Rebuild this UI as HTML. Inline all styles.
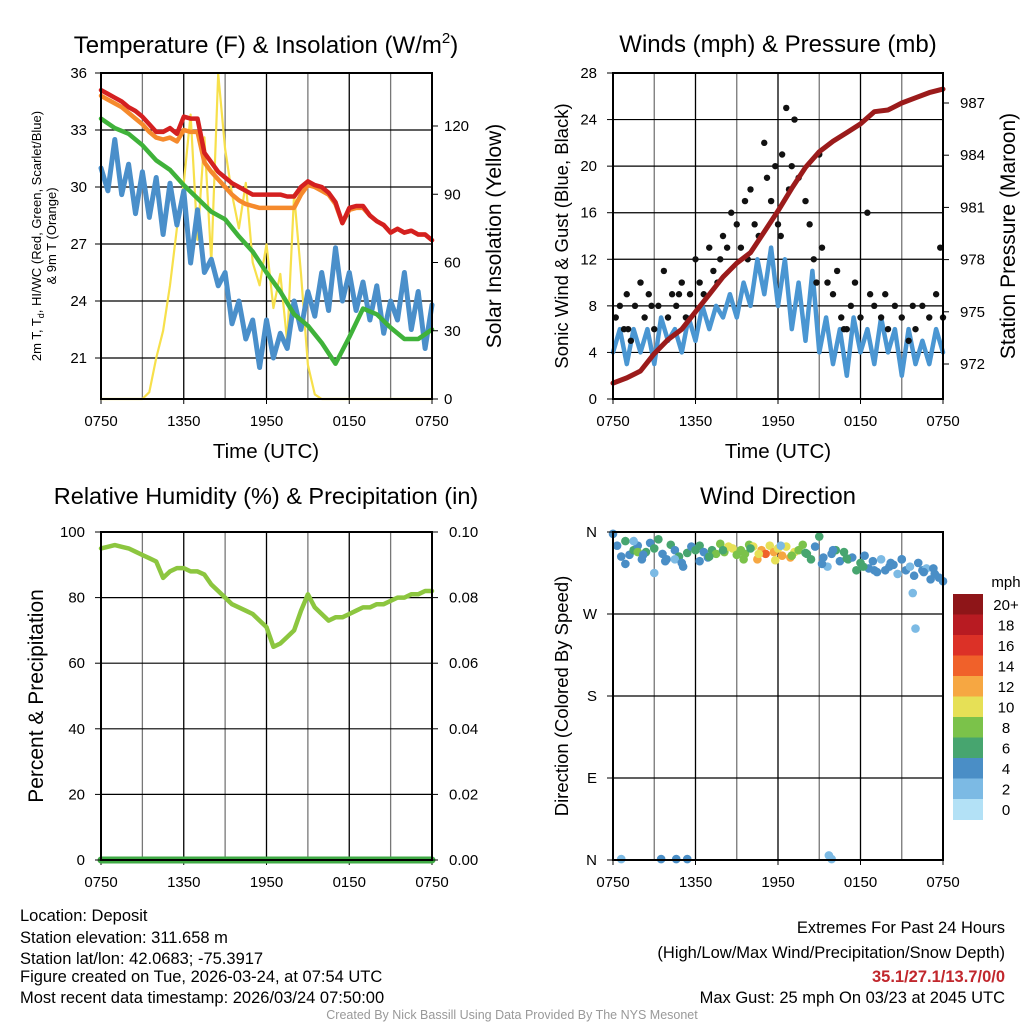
<!DOCTYPE html>
<html><head><meta charset="utf-8">
<style>
html,body{margin:0;padding:0;background:#fff;}
svg{display:block;font-family:"Liberation Sans",Arial,sans-serif;}
</style></head>
<body>
<svg id="fig" width="1024" height="1024" viewBox="0 0 1024 1024">
<g id="p1"></g>
<g id="p2"></g>
<g id="p3"></g>
<g id="p4"></g>
<g font-size="16.5" fill="#000">
<text x="20" y="921">Location: Deposit</text>
<text x="20" y="943">Station elevation: 311.658 m</text>
<text x="20" y="964">Station lat/lon: 42.0683; -75.3917</text>
<text x="20" y="982">Figure created on Tue, 2026-03-24, at 07:54 UTC</text>
<text x="20" y="1003">Most recent data timestamp: 2026/03/24 07:50:00</text>
<text x="1005" y="933" text-anchor="end">Extremes For Past 24 Hours</text>
<text x="1005" y="958" text-anchor="end">(High/Low/Max Wind/Precipitation/Snow Depth)</text>
<text x="1005" y="982" text-anchor="end" fill="#c1272d" font-weight="bold">35.1/27.1/13.7/0/0</text>
<text x="1005" y="1003" text-anchor="end">Max Gust: 25 mph On 03/23 at 2045 UTC</text>
<text x="512" y="1019" text-anchor="middle" font-size="12.5" fill="#999">Created By Nick Bassill Using Data Provided By The NYS Mesonet</text>
</g>
</svg>
<script>
// ---------- data ----------
const t49 = Array.from({length:49},(_, i)=>i*0.5);
const t25 = Array.from({length:25},(_, i)=>i);
const xTickLabels = ["0750","1350","1950","0150","0750"];
const tempTicks = [21,24,27,30,33,36];
const solarTicks = [0,30,60,90,120];
const tempRed = [35.1,34.9,34.7,34.5,34.2,34.0,33.7,33.3,32.9,32.9,33.1,32.8,33.7,33.6,33.6,31.8,31.3,30.8,30.5,30.2,30.0,29.8,29.6,29.6,29.6,29.6,29.6,29.5,29.5,30.0,30.3,30.1,30.0,29.7,29.2,28.1,28.9,29.0,29.0,28.5,28.2,28.0,27.6,27.8,27.6,27.7,27.5,27.5,27.2];
const tempOrange = [34.8,34.6,34.4,34.2,33.9,33.6,33.3,32.9,32.6,32.5,32.6,32.4,33.0,32.9,32.9,31.3,30.8,30.4,30.0,29.6,29.3,29.1,29.0,28.9,28.9,28.9,28.9,28.9,28.9,29.6,30.1,30.0,29.8,29.6,29.1,28.1,28.8,28.9,28.9,28.5,28.2,28.0,27.6,27.8,27.6,27.7,27.5,27.5,27.2];
const dewGreen = [33.6,33.1,32.8,32.2,31.4,30.9,30.1,29.4,28.7,28.3,27.4,26.6,25.5,24.5,23.3,22.7,21.8,20.7,22.1,23.6,23.3,22.6,22.0,22.0,22.5];
const chillBlue = [31.0,29.8,32.5,29.6,31.2,28.6,30.8,28.4,30.5,27.5,30.2,28.0,29.8,26.0,28.8,25.5,26.2,24.8,25.5,22.8,24.0,22.0,23.0,20.5,23.0,21.0,22.3,21.5,24.0,22.5,24.5,23.2,25.5,23.5,26.8,24.0,25.5,23.5,25.0,23.0,24.8,22.3,24.0,23.0,25.5,22.5,24.5,21.5,23.8];
const solar = [0,0,0,0,0,0,0,3,18,30,50,75,95,125,70,115,60,143,110,90,75,95,60,50,68,40,55,25,90,55,15,2,0,0,0,0,0,0,0,0,0,0,0,0,0,0,0,0,0];
const windTicks = [0,4,8,12,16,20,24,28];
const presTicks = [972,975,978,981,984,987];
const pressure = [970.9,971.2,971.6,972.6,973.4,974.0,975.0,976.0,977.0,977.8,978.4,979.6,980.8,982.1,983.3,984.2,984.8,985.3,985.8,986.5,986.6,987.0,987.3,987.6,987.8];
const sonicWind = [4,6,3,6,4,6,3,7,5,6,4,7,5,8,6,8,7,9,7,10,8,12,9,13,8,12,6,10,5,11,4,7,3,6,2,7,4,6,3,7,4,6,2,6,3,5,3,6,4];
const gustT = [0.2,0.5,0.8,1,1.3,1.6,2,2.3,2.6,3,3.3,3.7,4,4.3,4.6,5,5.3,5.6,6,6.3,6.6,7,7.3,7.6,8,8.3,8.6,9,9.3,9.6,10,10.3,10.6,11,11.2,11.5,11.8,12,12.3,12.6,12.8,13,13.2,13.5,14,14.3,14.6,15,15.2,15.6,16,16.3,16.6,17,17.3,17.6,18,18.5,18.7,19,19.5,20,20.5,21,21.5,22,22.5,23,23.5,23.8,24,1.1,2.8,4.8,7.8,9.8,12.2,14.8,16.8,19.8,21.8];
const gustV = [7,8,6,9,5,8,10,7,9,6,8,11,7,9,8,10,7,9,12,10,9,13,11,10,14,13,16,15,13,17,18,15,14,22,19,17,20,15,21,25,18,20,24,19,17,15,12,21,13,10,9,11,7,6,8,10,7,16,9,8,7,6,8,7,5,6,8,7,9,13,7,6,8,9,12,12,14,10,6,9,8];
const rhTicks = [0,20,40,60,80,100];
const precipTicks = ["0.00","0.02","0.04","0.06","0.08","0.10"];
const rh = [95,95.5,96,95.5,95,94,93,92,91,86,88,89,89,88,88,87,84,82,80,78,77,76,75,73,71,65,66,68,70,76,81,77,75,73,74,74,75,76,77,77,78,78,79,80,80,81,81,82,82];
const precip = [0,0,0,0,0,0,0,0,0,0,0,0,0,0,0,0,0,0,0,0,0,0,0,0,0];
const dirLabels = ["N","E","S","W","N"];
const spdLevels = ["0","2","4","6","8","10","12","14","16","18","20+"];
const spdColors = ["#b3e1f6","#7cbae4","#4a8ec6","#47a56f","#7bc24a","#e6e056","#f6a742","#f0612a","#dc3127","#b81b22","#8e1518"];
const dirT = [0,0.3,0.6,0.9,1.2,1.5,1.8,2.1,2.4,2.7,3.0,3.3,3.6,3.9,4.2,4.5,4.8,5.1,5.4,5.7,6.0,6.3,6.6,6.9,7.2,7.5,7.8,8.1,8.4,8.7,9.0,9.3,9.6,9.9,10.2,10.5,10.8,11.1,11.4,11.7,12.0,12.3,12.6,12.9,13.2,13.5,13.8,14.1,14.4,14.7,15.0,15.3,15.6,15.9,16.2,16.5,16.8,17.1,17.4,17.7,18.0,18.3,18.6,18.9,19.2,19.5,19.8,20.1,20.4,20.7,21.0,21.3,21.6,21.9,22.2,22.5,22.8,23.1,23.4,23.7,24.0,1.5,3.0,6.3,10.0,1.8,4.5,12.2,16.0,21.8,22.0,0.6,3.5,4.6,5.4,15.7,15.9,0.9,2.2,3.8,5.0,7.0,8.0,9.5,10.6,11.8,13.0,14.0,15.2,17.0,18.2,19.0,20.2,21.0,22.6,23.3];
const dirD = [358,345,333,350,335,340,345,330,338,348,342,352,336,330,346,340,333,322,337,344,340,345,338,332,340,336,347,338,344,342,335,340,336,346,344,330,340,336,345,338,342,334,344,332,338,340,346,336,330,344,355,332,322,336,340,328,338,330,332,318,326,334,320,328,316,330,318,322,324,314,330,318,322,312,326,318,320,308,314,310,306,350,315,328,342,338,330,345,340,293,254,1,1,1,1,5,1,325,335,328,326,333,340,330,336,329,334,337,325,331,322,318,326,330,316,320];
const dirS = [4,3,4,5,4,6,4,3,5,4,5,6,4,3,5,4,5,4,6,4,6,5,4,3,6,7,8,7,9,10,8,7,8,7,9,11,12,13,10,11,10,12,9,11,10,8,7,6,5,4,6,3,2,4,5,4,6,5,4,6,5,4,4,3,4,2,4,3,4,2,4,3,2,4,3,4,2,4,3,4,3,2,2,4,5,7,2,2,3,2,1,2,4,4,4,2,2,4,4,4,4,6,6,8,9,10,7,6,4,5,6,4,4,4,3,4];

// ---------- helpers ----------
const NS="http://www.w3.org/2000/svg";
function mk(parent,tag,attrs){const e=document.createElementNS(NS,tag);for(const k in attrs)e.setAttribute(k,attrs[k]);parent.appendChild(e);return e;}
function txt(parent,x,y,s,attrs){const e=mk(parent,'text',Object.assign({x:x,y:y},attrs||{}));e.textContent=s;return e;}
function lin(d0,d1,r0,r1){return v=>r0+(v-d0)/(d1-d0)*(r1-r0);}
function frame(g,x0,x1,y0,y1,yGrid){
  const xs=lin(0,24,x0,x1);
  for(let h=3;h<24;h+=3){
    const l=mk(g,'line',{x1:xs(h),x2:xs(h),y1:y0,y2:y1,stroke:h%6===0?'#000':'#777','stroke-width':1.3});
    
    
  }
  yGrid.forEach(y=>{
    const l=mk(g,'line',{x1:x0,x2:x1,y1:y,y2:y,stroke:'#000','stroke-width':1.2});
    
    
  });
  xTickLabels.forEach((s,i)=>{
    const t=txt(g,xs(i*6),y1+27,s,{'text-anchor':'middle','font-size':15});
    
    
    mk(g,'line',{x1:xs(i*6),x2:xs(i*6),y1:y1,y2:y1+5,stroke:'#000'});
  });
  return xs;
}
function border(g,x0,x1,y0,y1){
  const r=mk(g,'rect',{x:x0,y:y0,width:x1-x0,height:y1-y0,fill:'none',stroke:'#000','stroke-width':2});
  
  
}
function path(g,xsArr,ysArr,xs,ys,color,w,name){
  let d='';xsArr.forEach((t,i)=>{d+=(i?'L':'M')+xs(t).toFixed(1)+','+ys(ysArr[i]).toFixed(1);});
  const p=mk(g,'path',{d:d,fill:'none',stroke:color,'stroke-width':w,'stroke-linejoin':'round','stroke-linecap':'round'});
  
  
  return p;
}

// ---------- panel 1: temperature ----------
(function(){
  const g=document.getElementById('p1');
  const x0=101,x1=432,y0=73,y1=399;
  const yT=lin(21,36,358,73), yS=lin(0,120,399,126);
  const xs=frame(g,x0,x1,y0,y1,tempTicks.map(yT));
  path(g,t49,solar,xs,yS,'#f7e04b',2.2,'solar-insolation-line');
  path(g,t49,chillBlue,xs,yT,'#4a8fca',5,'wind-chill-line');
  path(g,t25,dewGreen,xs,yT,'#3fb23a',4.5,'dewpoint-line');
  path(g,t49,tempOrange,xs,yT,'#f58a2c',4.5,'temp-9m-line');
  path(g,t49,tempRed,xs,yT,'#d42020',4.5,'temp-2m-line');
  border(g,x0,x1,y0,y1);
  tempTicks.forEach(v=>{const t=txt(g,x0-14,yT(v)+5,String(v),{'text-anchor':'end','font-size':15});mk(g,'line',{x1:x0-6,x2:x0,y1:yT(v),y2:yT(v),stroke:'#000'});});
  solarTicks.forEach(v=>{const t=txt(g,x1+12,yS(v)+5,String(v),{'font-size':15});mk(g,'line',{x1:x1,x2:x1+6,y1:yS(v),y2:yS(v),stroke:'#000'});});
  const ti=mk(g,'text',{x:266,y:53,'text-anchor':'middle','font-size':24});
  ti.innerHTML='Temperature (F) &amp; Insolation (W/m<tspan dy="-10" font-size="15">2</tspan><tspan dy="10">)</tspan>';
  
  const xl=txt(g,266,458,'Time (UTC)',{'text-anchor':'middle','font-size':20.5});
  const yl=mk(g,'text',{transform:'translate(41,236) rotate(-90)','text-anchor':'middle','font-size':13});
  yl.innerHTML='2m T, T<tspan dy="3" font-size="9">d</tspan><tspan dy="-3">, HI/WC (Red, Green, Scarlet/Blue)</tspan>';
  
  const yl2=txt(g,0,0,'& 9m T (Orange)',{transform:'translate(56,236) rotate(-90)','text-anchor':'middle','font-size':13});
  
  const yr=txt(g,0,0,'Solar Insolation (Yellow)',{transform:'translate(501,236) rotate(-90)','text-anchor':'middle','font-size':21});
  
})();

// ---------- panel 2: winds ----------
(function(){
  const g=document.getElementById('p2');
  const x0=613,x1=943,y0=73,y1=399;
  const yW=lin(0,28,399,73), yP=lin(972,987,364,103);
  const xs=frame(g,x0,x1,y0,y1,windTicks.map(yW));
  path(g,t49,sonicWind,xs,yW,'#4a96d2',4.5,'sonic-wind-line');
  gustT.forEach((t,i)=>{const c=mk(g,'circle',{cx:xs(t),cy:yW(gustV[i]),r:3.2,fill:'#111'});});
  path(g,t25,pressure,xs,yP,'#9b1b1b',5,'pressure-line');
  border(g,x0,x1,y0,y1);
  windTicks.forEach(v=>{const t=txt(g,x0-16,yW(v)+5,String(v),{'text-anchor':'end','font-size':15});mk(g,'line',{x1:x0-6,x2:x0,y1:yW(v),y2:yW(v),stroke:'#000'});});
  presTicks.forEach(v=>{const t=txt(g,x1+17,yP(v)+5,String(v),{'font-size':15});mk(g,'line',{x1:x1,x2:x1+6,y1:yP(v),y2:yP(v),stroke:'#000'});});
  const ti=txt(g,778,52,'Winds (mph) & Pressure (mb)',{'text-anchor':'middle','font-size':24});
  const xl=txt(g,778,458,'Time (UTC)',{'text-anchor':'middle','font-size':20.5});
  const yl=txt(g,0,0,'Sonic Wind & Gust (Blue, Black)',{transform:'translate(568,236) rotate(-90)','text-anchor':'middle','font-size':18.5});
  const yr=txt(g,0,0,'Station Pressure (Maroon)',{transform:'translate(1015,236) rotate(-90)','text-anchor':'middle','font-size':21});
})();

// ---------- panel 3: humidity ----------
(function(){
  const g=document.getElementById('p3');
  const x0=101,x1=432,y0=532,y1=860;
  const yR=lin(0,100,860,532), yPr=lin(0,0.1,860,532);
  const xs=frame(g,x0,x1,y0,y1,rhTicks.map(yR));
  path(g,t49,rh,xs,yR,'#8cc63f',4.5,'relative-humidity-line');
  path(g,t25,precip,xs,yPr,'#3faa45',7,'precipitation-line');
  border(g,x0,x1,y0,y1);
  rhTicks.forEach(v=>{const t=txt(g,x0-16,yR(v)+5,String(v),{'text-anchor':'end','font-size':15});mk(g,'line',{x1:x0-6,x2:x0,y1:yR(v),y2:yR(v),stroke:'#000'});});
  precipTicks.forEach((s,i)=>{const t=txt(g,x1+17,yPr(i*0.02)+5,s,{'font-size':15});mk(g,'line',{x1:x1,x2:x1+6,y1:yPr(i*0.02),y2:yPr(i*0.02),stroke:'#000'});});
  const ti=txt(g,266,504,'Relative Humidity (%) & Precipitation (in)',{'text-anchor':'middle','font-size':23.5});
  const yl=txt(g,0,0,'Percent & Precipitation',{transform:'translate(43,696) rotate(-90)','text-anchor':'middle','font-size':21});
})();

// ---------- panel 4: wind direction ----------
(function(){
  const g=document.getElementById('p4');
  const x0=613,x1=943,y0=532,y1=860;
  const yD=lin(0,360,860,532);
  const xs=frame(g,x0,x1,y0,y1,[0,90,180,270,360].map(yD));
  dirT.forEach((t,i)=>{
    const idx=Math.min(10,Math.max(0,Math.round(dirS[i]/2)));
    const c=mk(g,'circle',{cx:xs(t),cy:yD(dirD[i]),r:4.3,fill:spdColors[idx]});
    
    
  });
  border(g,x0,x1,y0,y1);
  dirLabels.forEach((s,i)=>{const t=txt(g,x0-16,yD(i*90)+5,s,{'text-anchor':'end','font-size':15});mk(g,'line',{x1:x0-6,x2:x0,y1:yD(i*90),y2:yD(i*90),stroke:'#000'});});
  const ti=txt(g,778,504,'Wind Direction',{'text-anchor':'middle','font-size':24});
  const yl=txt(g,0,0,'Direction (Colored By Speed)',{transform:'translate(568,696) rotate(-90)','text-anchor':'middle','font-size':18.5});
  const cb=mk(g,'g',{});
  
  
  const ct=txt(cb,1006,587,'mph',{'text-anchor':'middle','font-size':15});
  const bh=20.5, top=594;
  spdLevels.forEach((s,i)=>{
    const k=10-i;
    const r=mk(cb,'rect',{x:953,y:top+i*bh,width:30,height:bh+0.5,fill:spdColors[k]});
    
    
    const t=txt(cb,1006,top+i*bh+16,spdLevels[k],{'text-anchor':'middle','font-size':15});
    
    
  });
})();
</script>
</body></html>
